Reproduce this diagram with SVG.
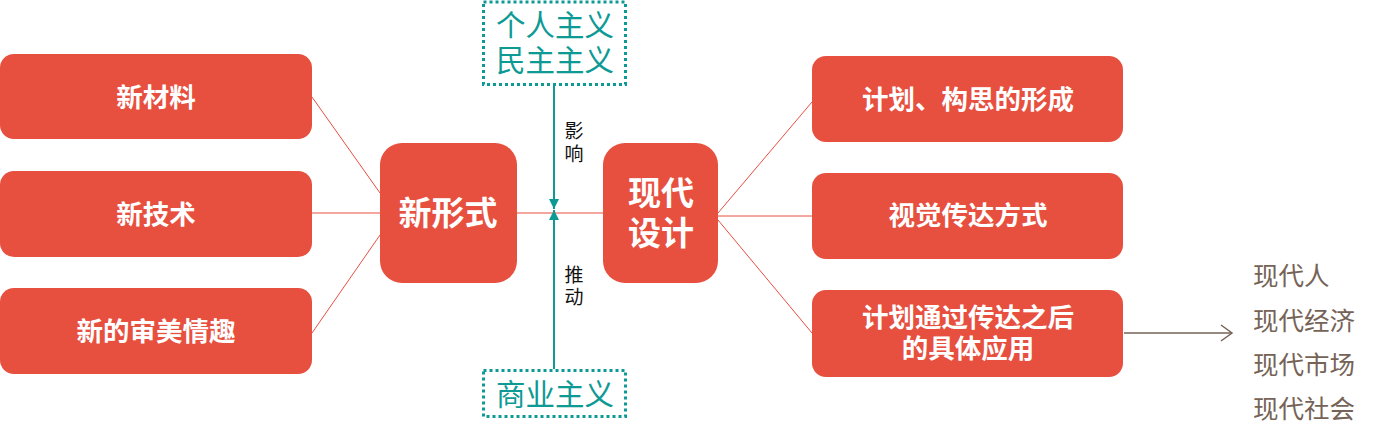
<svg xmlns="http://www.w3.org/2000/svg" width="1394" height="428" viewBox="0 0 1394 428">
<defs>
<style>
.box{fill:#E74F3F}
.t{font-family:"Noto Sans CJK SC","Noto Sans",sans-serif;fill:#fff;font-weight:bold;text-anchor:middle;dominant-baseline:central}
.s26{font-size:26.5px}
.s32{font-size:33px}
.tl{font-family:"Noto Sans CJK SC","Noto Sans",sans-serif;fill:#0E9A94;font-size:29.5px;text-anchor:middle;dominant-baseline:central}
.lbl{font-family:"Noto Sans CJK SC","Noto Sans",sans-serif;fill:#111;font-size:19px;text-anchor:middle;dominant-baseline:central}
.out{font-family:"Noto Sans CJK SC","Noto Sans",sans-serif;fill:#766357;font-size:25.5px;dominant-baseline:central}
.dash{fill:#fff;stroke:#0E9A94;stroke-width:3;stroke-dasharray:3 3}
.red{stroke:#E74F3F;stroke-width:1;fill:none}
.teal{stroke:#0E9A94;stroke-width:2;fill:none}
</style>
<marker id="tealArrow" markerWidth="10" markerHeight="10" refX="10" refY="5" orient="auto" markerUnits="userSpaceOnUse">
<path d="M0,0 L10,5 L0,10 Z" fill="#0E9A94"/>
</marker>
<marker id="openArrow" markerWidth="14" markerHeight="18" refX="12" refY="9" orient="auto" markerUnits="userSpaceOnUse">
<path d="M1,1 L12,9 L1,17" fill="none" stroke="#766357" stroke-width="1.5"/>
</marker>
</defs>
<rect width="1394" height="428" fill="#fff"/>
<g id="connectors">
<line class="red" x1="312" y1="97" x2="380" y2="193"/>
<line class="red" x1="312" y1="213" x2="380" y2="213"/>
<line class="red" x1="312" y1="333" x2="380" y2="235"/>
<line class="red" x1="517" y1="213" x2="603" y2="213"/>
<line class="red" x1="718" y1="213" x2="812" y2="102"/>
<line class="red" x1="718" y1="216" x2="812" y2="216"/>
<line class="red" x1="718" y1="220" x2="812" y2="333"/>
<line class="teal" x1="554" y1="86" x2="554" y2="209" marker-end="url(#tealArrow)"/>
<line class="teal" x1="554" y1="369" x2="554" y2="210" marker-end="url(#tealArrow)"/>
<line x1="1124" y1="333" x2="1232" y2="333" stroke="#766357" stroke-width="1.5" marker-end="url(#openArrow)"/>
<text class="lbl" x="574" y="129">影</text>
<text class="lbl" x="574" y="152">响</text>
<text class="lbl" x="574" y="273">推</text>
<text class="lbl" x="574" y="295">动</text>
</g>
<g id="n-material"><rect class="box" x="0" y="54" width="312" height="85" rx="14"/><text class="t s26" x="156" y="95">新材料</text></g>
<g id="n-tech"><rect class="box" x="0" y="171" width="312" height="86" rx="14"/><text class="t s26" x="156" y="212">新技术</text></g>
<g id="n-aesthetic"><rect class="box" x="0" y="288" width="312" height="86" rx="14"/><text class="t s26" x="156" y="329">新的审美情趣</text></g>
<g id="n-newform"><rect class="box" x="380" y="143" width="137" height="140" rx="22"/><text class="t s32" x="448" y="211">新形式</text></g>
<g id="n-modern"><rect class="box" x="603" y="143" width="115" height="140" rx="22"/><text class="t s32" x="661" y="191">现代</text><text class="t s32" x="661" y="231">设计</text></g>
<g id="n-individual"><rect class="dash" x="483.5" y="2" width="142" height="82.5"/><text class="tl" x="555" y="23">个人主义</text><text class="tl" x="555" y="58">民主主义</text></g>
<g id="n-commerce"><rect class="dash" x="483.5" y="370.5" width="142" height="46"/><text class="tl" x="555" y="392">商业主义</text></g>
<g id="n-plan"><rect class="box" x="812" y="56" width="311" height="86" rx="14"/><text class="t s26" x="968" y="97">计划、构思的形成</text></g>
<g id="n-visual"><rect class="box" x="812" y="173" width="311" height="86" rx="14"/><text class="t s26" x="968" y="213">视觉传达方式</text></g>
<g id="n-apply"><rect class="box" x="812" y="290" width="311" height="87" rx="14"/><text class="t s26" x="968" y="315">计划通过传达之后</text><text class="t s26" x="968" y="346">的具体应用</text></g>
<g id="n-outcomes">
<text class="out" x="1253" y="273">现代人</text>
<text class="out" x="1253" y="318">现代经济</text>
<text class="out" x="1253" y="362">现代市场</text>
<text class="out" x="1253" y="406">现代社会</text>
</g>
</svg>
